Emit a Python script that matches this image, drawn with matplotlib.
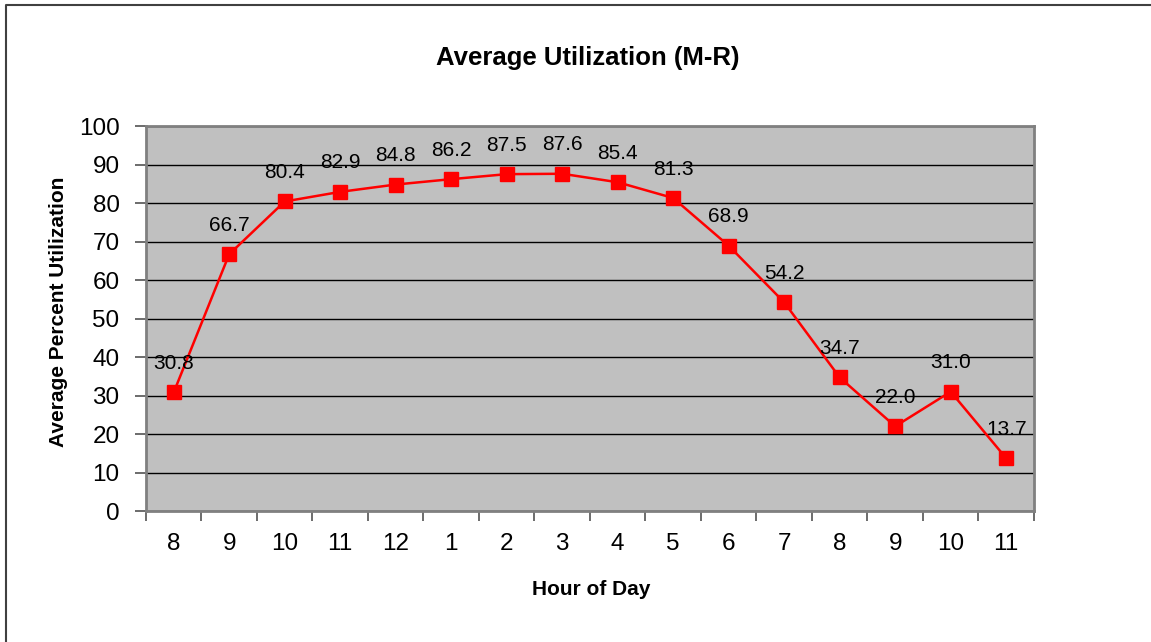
import matplotlib
matplotlib.use("Agg")
import matplotlib.pyplot as plt
from matplotlib.lines import Line2D
import numpy as np

plt.rcParams['font.family'] = ['Liberation Sans', 'DejaVu Sans']

hours = ['8', '9', '10', '11', '12', '1', '2', '3', '4', '5', '6', '7', '8', '9', '10', '11']
utilization = [30.8, 66.7, 80.4, 82.9, 84.8, 86.2, 87.5, 87.6, 85.4, 81.3, 68.9, 54.2, 34.7, 22.0, 31.0, 13.7]

fig = plt.figure(figsize=(11.51, 6.42), dpi=100)
ax = fig.add_axes([0.1268, 0.2040, 0.7715, 0.5997])
ax.set_facecolor('#C0C0C0')

x = np.arange(len(hours))
ax.plot(x, utilization, color='#FF0000', linewidth=1.8, marker='s', markersize=10.5,
        markerfacecolor='#FF0000', markeredgecolor='#FF0000', zorder=3)

for xi, v in zip(x, utilization):
    ax.annotate('{:.1f}'.format(v), (xi, v), xytext=(0, 29), textcoords='offset pixels',
                ha='center', va='center', fontsize=15, color='black', zorder=4)

ax.set_xlim(-0.5, len(hours) - 0.5)
ax.set_ylim(0, 100)
ax.set_yticks(np.arange(0, 101, 10))
ax.yaxis.grid(True, color='black', linewidth=1.0)
ax.set_axisbelow(True)

ax.set_xticks(x)
ax.set_xticklabels(hours)
ax.set_xticks(np.arange(-0.5, len(hours), 1), minor=True)
ax.tick_params(axis='x', which='major', length=0, pad=16, labelsize=17.5)
ax.tick_params(axis='x', which='minor', length=7, width=1.3, color='#606060', direction='out')
ax.tick_params(axis='y', which='major', length=8, width=1.3, color='#606060', pad=11,
               labelsize=17.5, direction='out')

for s in ax.spines.values():
    s.set_color('#808080')
    s.set_linewidth(2)

fig.text(0.511, 0.9097, 'Average Utilization (M-R)', ha='center', va='center',
         fontsize=18.5, fontweight='bold')
fig.text(0.514, 0.081, 'Hour of Day', ha='center', va='center', fontsize=15, fontweight='bold')
fig.text(0.0504, 0.514, 'Average Percent Utilization', ha='center', va='center',
         fontsize=15, fontweight='bold', rotation=90)

# outer chart border (only left and top visible in the crop)
fig.add_artist(Line2D([0.0052, 0.0052, 1.0], [0.0, 0.9922, 0.9922], transform=fig.transFigure,
                      color='#404040', linewidth=1.5))

fig.savefig('out.png', dpi=100)
